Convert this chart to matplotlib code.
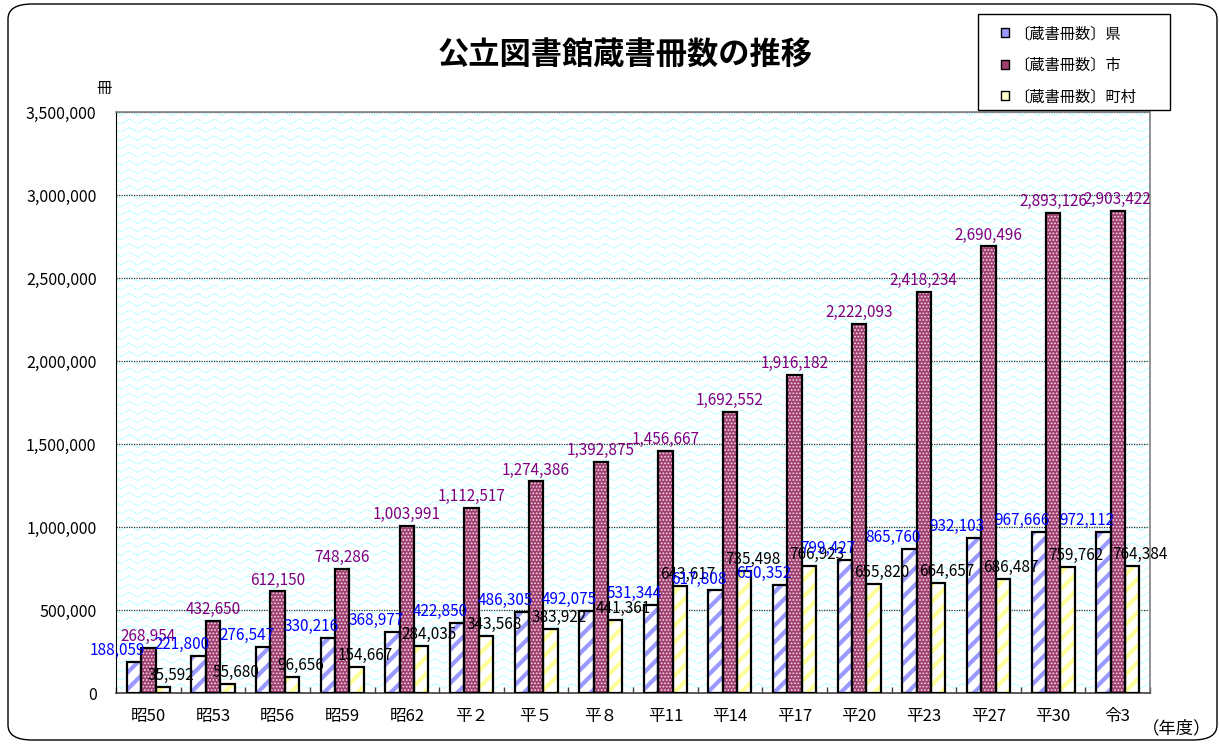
import numpy as np
import matplotlib
matplotlib.use('Agg')
import matplotlib.pyplot as plt
from matplotlib.patches import FancyBboxPatch, Patch, Rectangle
from matplotlib.ticker import FuncFormatter

plt.rcParams['font.family'] = ['Noto Sans CJK JP', 'DejaVu Sans']

years = ['昭50', '昭53', '昭56', '昭59', '昭62', '平２', '平５', '平８',
         '平11', '平14', '平17', '平20', '平23', '平27', '平30', '令3']
ken = [188059, 221800, 276547, 330216, 368977, 422850, 486305, 492075,
       531344, 617808, 650352, 799427, 865760, 932103, 967666, 972112]
shi = [268954, 432650, 612150, 748286, 1003991, 1112517, 1274386, 1392875,
       1456667, 1692552, 1916182, 2222093, 2418234, 2690496, 2893126, 2903422]
choson = [35592, 55680, 96656, 154667, 284035, 343568, 383922, 441361,
          643617, 735498, 766923, 655820, 664657, 686487, 759762, 764384]
labels = ['〔蔵書冊数〕県', '〔蔵書冊数〕市', '〔蔵書冊数〕町村']

fig = plt.figure(figsize=(12.19, 7.46), dpi=100)
ax = fig.add_axes([0.0952, 0.0710, 0.8482, 0.7788])

# wavy cyan background of the plot area
W, H = 1034, 581
xx, yy = np.meshgrid(np.arange(W), np.arange(H))
d = np.mod(yy - 2.0 * np.sin(2 * np.pi * xx / 17.0), 8.3)
mask = d < 1.4
tex = np.ones((H, W, 3))
tex[mask] = (0.8, 1.0, 1.0)
ax.imshow(tex, extent=(0, 1, 0, 1), transform=ax.transAxes, aspect='auto',
          zorder=0, interpolation='nearest')

x = np.arange(len(years))
w = 0.222

series = [
    (-w, ken, 'white', '#9999ff', '//', 3.0),
    (0, shi, '#a04070', '#f4dce8', '.....', 0.8),
    (w, choson, 'white', '#ffff99', '//', 3.0),
]
for off, vals, fc, hc, hatch, hlw in series:
    with plt.rc_context({'hatch.linewidth': hlw}):
        ax.bar(x + off, vals, w, color=fc, edgecolor=hc, linewidth=0,
               hatch=hatch, zorder=2)
    ax.bar(x + off, vals, w, fill=False, edgecolor='black', linewidth=1.6,
           zorder=3)

for i in x:
    ax.annotate(f'{ken[i]:,}', (i - w, ken[i]), xytext=(-12, 5),
                textcoords='offset points', ha='center', va='baseline',
                color='#0000ff', fontsize=11, zorder=5)
    ax.annotate(f'{shi[i]:,}', (i, shi[i]), xytext=(0, 5),
                textcoords='offset points', ha='center', va='baseline',
                color='#800080', fontsize=11, zorder=5)
    ax.annotate(f'{choson[i]:,}', (i + w, choson[i]), xytext=(6, 5),
                textcoords='offset points', ha='center', va='baseline',
                color='black', fontsize=11, zorder=5)

ax.set_xlim(-0.5, len(years) - 0.5)
ax.set_ylim(0, 3500000)
ax.set_yticks(np.arange(0, 3500001, 500000))
ax.yaxis.set_major_formatter(FuncFormatter(lambda v, p: f'{int(v):,}'))
ax.tick_params(axis='y', length=0, pad=14, labelsize=11.5)
ax.set_xticks(x)
ax.set_xticklabels(years)
ax.tick_params(axis='x', which='major', length=0, pad=11, labelsize=12)
ax.set_xticks(np.arange(-0.5, len(years), 1), minor=True)
ax.tick_params(axis='x', which='minor', direction='in', length=4,
               width=1, color='#404040')

ax.yaxis.grid(True, linestyle=(0, (1, 1)), color='#303030', linewidth=0.9)
ax.set_axisbelow(True)
for s in ['top', 'right']:
    ax.spines[s].set_color('#808080')
    ax.spines[s].set_linewidth(1.2)
ax.spines['left'].set_color('black')
ax.spines['bottom'].set_color('#404040')
ax.spines['bottom'].set_linewidth(1.2)

fig.text(0.513, 0.926, '公立図書館蔵書冊数の推移', ha='center', va='center',
         fontsize=22.5, fontweight='bold')
fig.text(0.0853, 0.882, '冊', ha='center', va='center', fontsize=11)
fig.text(0.965, 0.024, '（年度）', ha='center', va='center', fontsize=12.5)

# legend with its own frame
fig.patches.append(Rectangle((978 / 1219, 1 - 110 / 746), 192 / 1219,
                             96 / 746, transform=fig.transFigure,
                             facecolor='white', edgecolor='black',
                             linewidth=1, zorder=4))
handles = [Patch(facecolor='#9999ff', edgecolor='black', linewidth=1),
           Patch(facecolor='#a04070', edgecolor='black', linewidth=1),
           Patch(facecolor='#ffffcc', edgecolor='black', linewidth=1)]
leg = fig.legend(handles, labels, loc='upper left',
                 bbox_to_anchor=(998 / 1219, 1 - 22 / 746), borderaxespad=0,
                 fontsize=11, handlelength=0.55, handleheight=0.55,
                 handletextpad=0.3, labelspacing=0.95, borderpad=0.2,
                 frameon=False)
leg.set_zorder(5)

border = FancyBboxPatch((8 / 1219, 6 / 746), 1209 / 1219, 736 / 746,
                        boxstyle='round,pad=0,rounding_size=0.02',
                        transform=fig.transFigure, fill=False,
                        edgecolor='black', linewidth=1, zorder=0)
fig.patches.append(border)

fig.savefig('out.png', dpi=100)
